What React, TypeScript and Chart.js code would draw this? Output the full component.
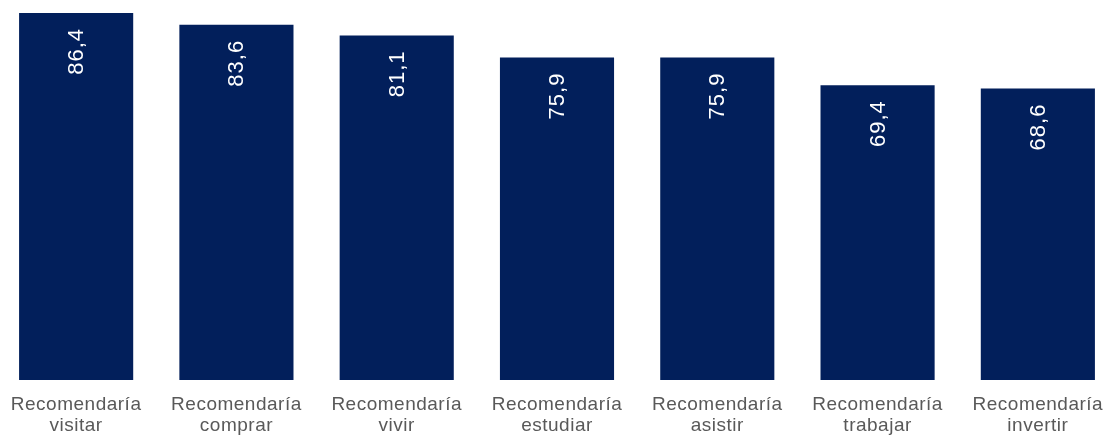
import React, { useEffect, useRef } from "react";
import { Chart, registerables } from "chart.js";

Chart.register(...registerables);

const categories: string[][] = [
  ["Recomendaría", "visitar"],
  ["Recomendaría", "comprar"],
  ["Recomendaría", "vivir"],
  ["Recomendaría", "estudiar"],
  ["Recomendaría", "asistir"],
  ["Recomendaría", "trabajar"],
  ["Recomendaría", "invertir"],
];
const values: number[] = [86.4, 83.6, 81.1, 75.9, 75.9, 69.4, 68.6];

const BAR_COLOR = "#021F5B";
const FONT = "'Liberation Sans', Arial, sans-serif";

const spacingPlugin = {
  id: "spacing",
  beforeDraw(chart: any) {
    chart.ctx.letterSpacing = "0.5px";
  },
  afterDraw(chart: any) {
    chart.ctx.letterSpacing = "0px";
  },
};

const labelPlugin = {
  id: "barLabels",
  afterDatasetsDraw(chart: any) {
    const ctx = chart.ctx;
    const meta = chart.getDatasetMeta(0);
    ctx.save();
    ctx.letterSpacing = "1px";
    ctx.fillStyle = "#ffffff";
    ctx.font = `22px ${FONT}`;
    ctx.textAlign = "right";
    ctx.textBaseline = "middle";
    meta.data.forEach((bar: any, i: number) => {
      const txt = values[i].toFixed(1).replace(".", ",");
      ctx.save();
      ctx.translate(bar.x + 1, bar.y + 15);
      ctx.rotate(-Math.PI / 2);
      ctx.fillText(txt, 0, 0);
      ctx.restore();
    });
    ctx.restore();
  },
};

export default function App() {
  const ref = useRef<HTMLCanvasElement>(null);
  useEffect(() => {
    document.body.style.overflow = "hidden";
    const chart = new Chart(ref.current!, {
      type: "bar",
      data: {
        labels: categories,
        datasets: [
          {
            data: values,
            backgroundColor: BAR_COLOR,
            categoryPercentage: 0.712,
            barPercentage: 1,
          },
        ],
      },
      options: {
        animation: false,
        responsive: true,
        maintainAspectRatio: false,
        layout: { padding: 0 },
        plugins: { legend: { display: false }, tooltip: { enabled: false } },
        scales: {
          x: {
            grid: { display: false, drawTicks: false },
            border: { display: false },
            ticks: {
              color: "#595959",
              font: { family: FONT, size: 19, lineHeight: 1.08 },
              padding: 15,
              maxRotation: 0,
              autoSkip: false,
            },
            afterFit(scale: any) {
              scale.height = 55;
            },
          },
          y: {
            display: false,
            min: 0,
            max: 89.45,
          },
        },
      },
      plugins: [spacingPlugin, labelPlugin],
    });
    return () => chart.destroy();
  }, []);
  return (
    <div style={{ position: "fixed", left: 0, top: 0, width: 1107, height: 435, overflow: "hidden", background: "#fff" }}>
      <div style={{ position: "absolute", left: -4, top: 0, width: 1122, height: 435 }}>
        <canvas ref={ref} />
      </div>
    </div>
  );
}
